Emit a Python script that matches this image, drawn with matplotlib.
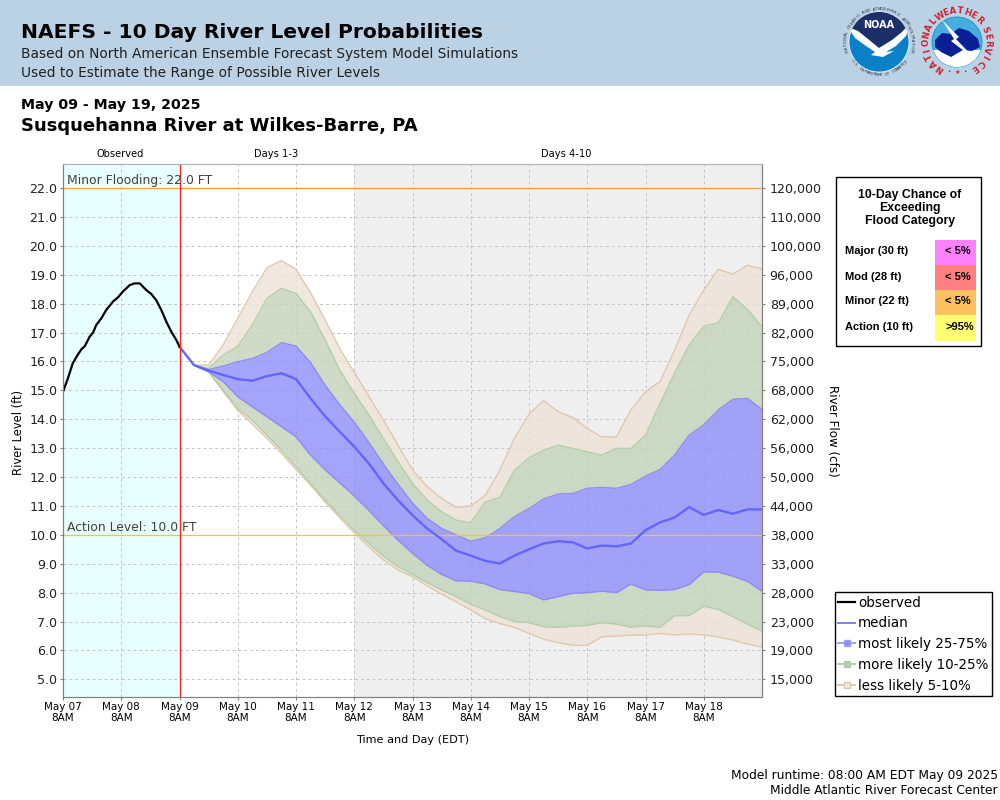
"""
NAEFS 10 day river level probabilities, Susquehanna River at Wilkes-Barre.
"""

import matplotlib
matplotlib.use('Agg')
import matplotlib.pyplot as plt
import numpy as np
from matplotlib.lines import Line2D
from matplotlib.patches import Circle, Polygon, Rectangle

# Observed stage, hours since May 07 8AM
obs_hours = [0, 2, 4, 6, 7.6, 9, 11, 12.4, 13.7, 15.8, 17.8, 20.6, 22.7, 24.7, 27.5, 29.5,
             31.6, 34.3, 36.4, 38.4, 40.5, 42.6, 44.6, 46.7, 48]
obs_level = [14.95, 15.41, 15.93, 16.22, 16.42, 16.53, 16.86, 17.0, 17.26, 17.49, 17.78, 18.07,
             18.22, 18.42, 18.64, 18.7, 18.7, 18.47, 18.33, 18.12, 17.78, 17.37, 17.03, 16.74, 16.51]

# Forecast, one value every 6 hours from May 09 8AM
median = [16.51, 15.87, 15.68, 15.53, 15.39, 15.33, 15.49, 15.59, 15.39, 14.72, 14.1, 13.57, 13.05,
          12.47, 11.78, 11.2, 10.68, 10.22, 9.85, 9.45, 9.28, 9.1, 9.01, 9.28, 9.5, 9.7, 9.78, 9.74,
          9.53, 9.63, 9.6, 9.7, 10.16, 10.43, 10.6, 10.96, 10.69, 10.86, 10.73, 10.88, 10.88]

# Bands start one step later, May 09 2PM
p95 = [15.87, 15.87, 16.57, 17.49, 18.41, 19.24, 19.49, 19.19, 18.38, 17.43, 16.45, 15.62, 14.8,
       13.97, 13.11, 12.24, 11.67, 11.26, 10.95, 11.0, 11.37, 12.24, 13.34, 14.18, 14.64, 14.26, 14.06,
       13.68, 13.39, 13.39, 14.32, 14.95, 15.3, 16.39, 17.6, 18.47, 19.19, 19.02, 19.33, 19.2]
p90 = [15.87, 15.76, 16.22, 16.53, 17.26, 18.18, 18.53, 18.35, 17.72, 16.74, 15.7, 14.9, 14.15,
       13.34, 12.53, 11.78, 11.2, 10.8, 10.51, 10.42, 11.14, 11.3, 12.24, 12.67, 12.93, 13.1, 12.99,
       12.87, 12.76, 12.99, 12.99, 13.45, 14.55, 15.6, 16.57, 17.22, 17.34, 18.24, 17.8, 17.2]
p75 = [15.87, 15.72, 15.84, 15.99, 16.1, 16.31, 16.65, 16.53, 15.96, 15.18, 14.5, 13.9, 13.2, 12.45,
       11.75, 11.1, 10.57, 10.22, 10.0, 9.78, 9.9, 10.22, 10.63, 10.91, 11.24, 11.41, 11.43, 11.61,
       11.64, 11.61, 11.74, 12.03, 12.26, 12.76, 13.45, 13.8, 14.32, 14.69, 14.72, 14.34]
p25 = [15.87, 15.64, 15.3, 14.78, 14.43, 14.09, 13.74, 13.39, 12.76, 12.25, 11.8, 11.35, 10.85, 10.32,
       9.82, 9.36, 8.95, 8.63, 8.41, 8.4, 8.3, 8.11, 8.04, 7.97, 7.75, 7.86, 7.98, 8.0, 8.05, 8.0, 8.3,
       8.1, 8.08, 8.11, 8.28, 8.72, 8.71, 8.57, 8.39, 8.05]
p10 = [15.87, 15.64, 15.01, 14.37, 13.97, 13.45, 12.93, 12.36, 11.78, 11.2, 10.68, 10.16, 9.7, 9.26,
       8.9, 8.63, 8.35, 8.09, 7.86, 7.6, 7.4, 7.17, 7.0, 6.96, 6.82, 6.8, 6.84, 6.87, 6.96, 6.91, 6.81,
       6.85, 6.8, 7.2, 7.21, 7.53, 7.42, 7.17, 6.91, 6.67]
p5 = [15.87, 15.64, 14.96, 14.3, 13.83, 13.34, 12.82, 12.26, 11.72, 11.14, 10.59, 10.07, 9.59, 9.13,
      8.78, 8.55, 8.24, 7.95, 7.68, 7.4, 7.1, 6.93, 6.8, 6.59, 6.39, 6.27, 6.18, 6.18, 6.47, 6.5, 6.53,
      6.53, 6.59, 6.54, 6.57, 6.54, 6.47, 6.36, 6.22, 6.12]

day_labels = ['May 07', 'May 08', 'May 09', 'May 10', 'May 11', 'May 12', 'May 13', 'May 14',
              'May 15', 'May 16', 'May 17', 'May 18']
level_ticks = [5, 6, 7, 8, 9, 10, 11, 12, 13, 14, 15, 16, 17, 18, 19, 20, 21, 22]
flow_labels = ['15,000', '19,000', '23,000', '28,000', '33,000', '38,000', '44,000', '50,000', '56,000',
               '62,000', '68,000', '75,000', '82,000', '89,000', '96,000', '100,000', '110,000', '120,000']

flood_names = ['Major (30 ft)', 'Mod (28 ft)', 'Minor (22 ft)', 'Action (10 ft)']
flood_chance = ['< 5%', '< 5%', '< 5%', '>95%']
flood_colors = ['#FF80FF', '#FF8080', '#FFC060', '#FFFF70']

BLUE, GREEN, TAN = '#8E8EFB', '#C3D3BA', '#EDE3D7'

fig = plt.figure(figsize=(10, 8), dpi=100)
ax = fig.add_axes([0.063, 0.12875, 0.699, 0.66625])

# Period backgrounds
ax.axvspan(0, 2, color='#E8FFFF', lw=0, zorder=0)
ax.axvspan(5, 12, color='#EFEFEF', lw=0, zorder=0)
ax.set_axisbelow(True)
ax.grid(True, color='#C4C4C4', linestyle=(0, (3, 3)), linewidth=0.7)

obs_days = np.array(obs_hours) / 24
fc_days = 2 + np.arange(len(median)) * 0.25
band_days = fc_days[1:]

# Bands, each only between its own percentiles
ax.fill_between(band_days, p90, p95, color=TAN, alpha=0.8, lw=0, zorder=2)
ax.fill_between(band_days, p5, p10, color=TAN, alpha=0.8, lw=0, zorder=2)
ax.fill_between(band_days, p75, p90, color=GREEN, alpha=0.8, lw=0, zorder=2)
ax.fill_between(band_days, p10, p25, color=GREEN, alpha=0.8, lw=0, zorder=2)
ax.fill_between(band_days, p25, p75, color=BLUE, alpha=0.8, lw=0, zorder=2)
for vals, col in [(p95, '#E0C8AC'), (p5, '#E0C8AC'), (p90, '#B4CFA8'), (p10, '#B4CFA8'),
                  (p75, '#8C8CF2'), (p25, '#8C8CF2')]:
    ax.plot(band_days, vals, color=col, lw=1.0, zorder=3)

ax.plot(fc_days, median, color='#6464FF', lw=1.7, zorder=4)
ax.plot(obs_days, obs_level, color='black', lw=1.6, zorder=4)

ax.axhline(22, color='#FFA040', lw=0.9, zorder=3)
ax.axhline(10, color='#F0C830', lw=0.9, zorder=3)
ax.axvline(2, color='#FF2020', lw=1, zorder=5)
ax.text(0.07, 22.03, 'Minor Flooding: 22.0 FT', fontsize=8.9, color='#404040', va='bottom', zorder=6)
ax.text(0.07, 10.03, 'Action Level: 10.0 FT', fontsize=8.9, color='#404040', va='bottom', zorder=6)

ax.set_xlim(0, 12)
ax.set_ylim(4.39, 22.83)
ax.set_xticks(range(12))
ax.set_xticklabels([f'{d}\n8AM' for d in day_labels], fontsize=7.5, linespacing=1.1)
ax.set_yticks(level_ticks)
ax.set_yticklabels([f'{v:.1f}' for v in level_ticks], fontsize=9.1)
ax.tick_params(axis='x', length=2.5, color='#808080', pad=1)
ax.tick_params(axis='y', length=2.5, color='#808080', pad=1.5, labelcolor='#202020')

right = ax.twinx()
right.set_ylim(ax.get_ylim())
right.set_yticks(level_ticks)
right.set_yticklabels(flow_labels, fontsize=9.1, color='#202020')
right.tick_params(axis='y', length=2.5, color='#808080', pad=3)
for a in (ax, right):
    a.spines['top'].set_color('#B4B4B4')
    a.spines['left'].set_color('#808080')
    a.spines['right'].set_color('#808080')
    a.spines['bottom'].set_color('#808080')

# Legend
handles = [
    Line2D([], [], color='black', lw=1.6),
    Line2D([], [], color='#8080FF', lw=1.4),
    Line2D([], [], color='#A0A0FA', lw=1.4, marker='s', ms=5, mfc='#8C8CF2', mec='#A0A0FA'),
    Line2D([], [], color='#B4CFA8', lw=1.4, marker='s', ms=5, mfc='#B4CCAC', mec='#B4CFA8'),
    Line2D([], [], color='#E0C8AC', lw=1.4, marker='s', ms=5, mfc='#F0E8DC', mec='#E0C8AC'),
]
leg = fig.legend(handles, ['observed', 'median', 'most likely 25-75%', 'more likely 10-25%', 'less likely 5-10%'],
                 loc='lower left', bbox_to_anchor=(0.835, 0.13), bbox_transform=fig.transFigure,
                 fontsize=9.75, frameon=True, fancybox=False, framealpha=1, edgecolor='black',
                 borderpad=0.25, labelspacing=0.5, handlelength=1.25, handletextpad=0.2, borderaxespad=0)
leg.get_frame().set_linewidth(1)

# Everything around the plot is placed in pixels of the 1000x800 image
ov = fig.add_axes([0, 0, 1, 1], zorder=10)
ov.set_xlim(0, 1000)
ov.set_ylim(800, 0)
ov.axis('off')
ov.patch.set_alpha(0)

ov.add_patch(Rectangle((0, 0), 1000, 86, color='#BBD2E4', lw=0))
ov.text(21, 33, 'NAEFS - 10 Day River Level Probabilities', fontsize=14.55, fontweight='bold', va='center')
ov.text(21, 54, 'Based on North American Ensemble Forecast System Model Simulations', fontsize=9.9, va='center', color='#202020')
ov.text(21, 73, 'Used to Estimate the Range of Possible River Levels', fontsize=9.9, va='center', color='#202020')
ov.text(21, 105, 'May 09 - May 19, 2025', fontsize=10.2, fontweight='bold', va='center')
ov.text(21, 126, 'Susquehanna River at Wilkes-Barre, PA', fontsize=13, fontweight='bold', va='center')

ov.text(120, 154, 'Observed', fontsize=7.1, ha='center', va='center')
ov.text(276, 154, 'Days 1-3', fontsize=7.1, ha='center', va='center')
ov.text(566, 154, 'Days 4-10', fontsize=7.1, ha='center', va='center')
ov.text(19, 432, 'River Level (ft)', fontsize=8.3, rotation=90, ha='center', va='center')
ov.text(832, 431, 'River Flow (cfs)', fontsize=8.6, rotation=-90, ha='center', va='center')
ov.text(413, 740, 'Time and Day (EDT)', fontsize=8.1, ha='center', va='center')
ov.text(998, 775, 'Model runtime: 08:00 AM EDT May 09 2025', fontsize=8.8, ha='right', va='center')
ov.text(998, 791, 'Middle Atlantic River Forecast Center', fontsize=8.8, ha='right', va='center')

# Flood category panel
ov.add_patch(Rectangle((836, 176.5), 144.5, 169, fc='white', ec='black', lw=1))
for line, y in zip(['10-Day Chance of', 'Exceeding', 'Flood Category'], [195, 208, 221]):
    ov.text(910, y, line, fontsize=8.8, fontweight='bold', family='Liberation Sans', ha='center', va='center')
for i, (name, chance, col) in enumerate(zip(flood_names, flood_chance, flood_colors)):
    top = 240 + i * 25
    ov.add_patch(Rectangle((935, top), 41, 25.5, color=col, lw=0))
    ov.text(845, top + 11.5, name, fontsize=8, fontweight='bold', family='Liberation Sans', va='center')
    ov.text(945, top + 11.5, chance, fontsize=8, fontweight='bold', family='Liberation Sans', va='center')


def ring_text(text, cx, cy, r, start, end, flip=False, **kw):
    # Letters along a circle, angles in degrees clockwise from the top
    for ch, ang in zip(text, np.linspace(start, end, len(text))):
        a = np.radians(ang)
        rot = -ang + (180 if flip else 0)
        ov.text(cx + r * np.sin(a), cy - r * np.cos(a), ch, rotation=rot, ha='center', va='center',
                rotation_mode='anchor', **kw)


# NOAA logo
noaa_disk = Circle((879, 42), 30, fc='#0A80C8', ec='white', lw=0.5)
ov.add_patch(noaa_disk)
navy = Polygon(np.array([(845, 5), (913, 5), (913, 26), (902, 34), (892, 42), (879, 50), (868, 41), (856, 33),
                         (845, 26)]), fc='#1B2F69', lw=0)
ov.add_patch(navy)
navy.set_clip_path(noaa_disk)
bird = Polygon(np.array([(848, 27), (858, 31), (868, 39), (879, 48), (892, 40), (902, 32), (911, 22), (906, 36),
                         (896, 46), (886, 52), (894, 51), (883, 57), (871, 55), (875, 52), (866, 46), (855, 38)]),
               fc='white', lw=0)
ov.add_patch(bird)
bird.set_clip_path(noaa_disk)
ov.text(879, 25, 'NOAA', fontsize=7, fontweight='bold', color='white', ha='center', va='center')
ring_text('NATIONAL OCEANIC AND ATMOSPHERIC ADMINISTRATION', 879, 42, 33, -105, 105, fontsize=2.8, color='#26324A')
ring_text('U.S. DEPARTMENT OF COMMERCE', 879, 42, 33, 235, 125, flip=True, fontsize=2.8, color='#26324A')

# NWS logo
nws_disk = Circle((957, 42), 25, fc='#46AEDC', ec='#1C8CC8', lw=0.6)
ov.add_patch(nws_disk)
low = Polygon(np.array([(930, 50), (985, 50), (985, 70), (930, 70)]), fc='white', lw=0)
ov.add_patch(low)
low.set_clip_path(nws_disk)
ov.add_patch(Polygon(np.array([(935, 40), (942, 33), (951, 34), (959, 28), (969, 31), (978, 39), (980, 47),
                               (972, 51), (963, 50), (951, 57), (941, 52), (935, 47)]), fc='#0A1E96', lw=0))
ov.add_patch(Polygon(np.array([(942, 20), (959, 37), (956, 39), (977, 61), (951, 41), (954, 39)]),
                     fc='white', lw=0))
ring_text('NATIONAL', 957, 42, 31, -146, -49, fontsize=6.2, fontweight='bold', color='#D0202C')
ring_text('WEATHER', 957, 42, 31, -33, 45, fontsize=6.2, fontweight='bold', color='#D0202C')
ring_text('SERVICE', 957, 42, 31, 66, 145, fontsize=6.2, fontweight='bold', color='#D0202C')
ov.text(957, 72, '★', fontsize=4.5, color='#D0202C', ha='center', va='center')
ov.text(949, 71, '•', fontsize=4, color='#1C3CA0', ha='center', va='center')
ov.text(965, 71, '•', fontsize=4, color='#1C3CA0', ha='center', va='center')

fig.savefig('out.png', dpi=100)
